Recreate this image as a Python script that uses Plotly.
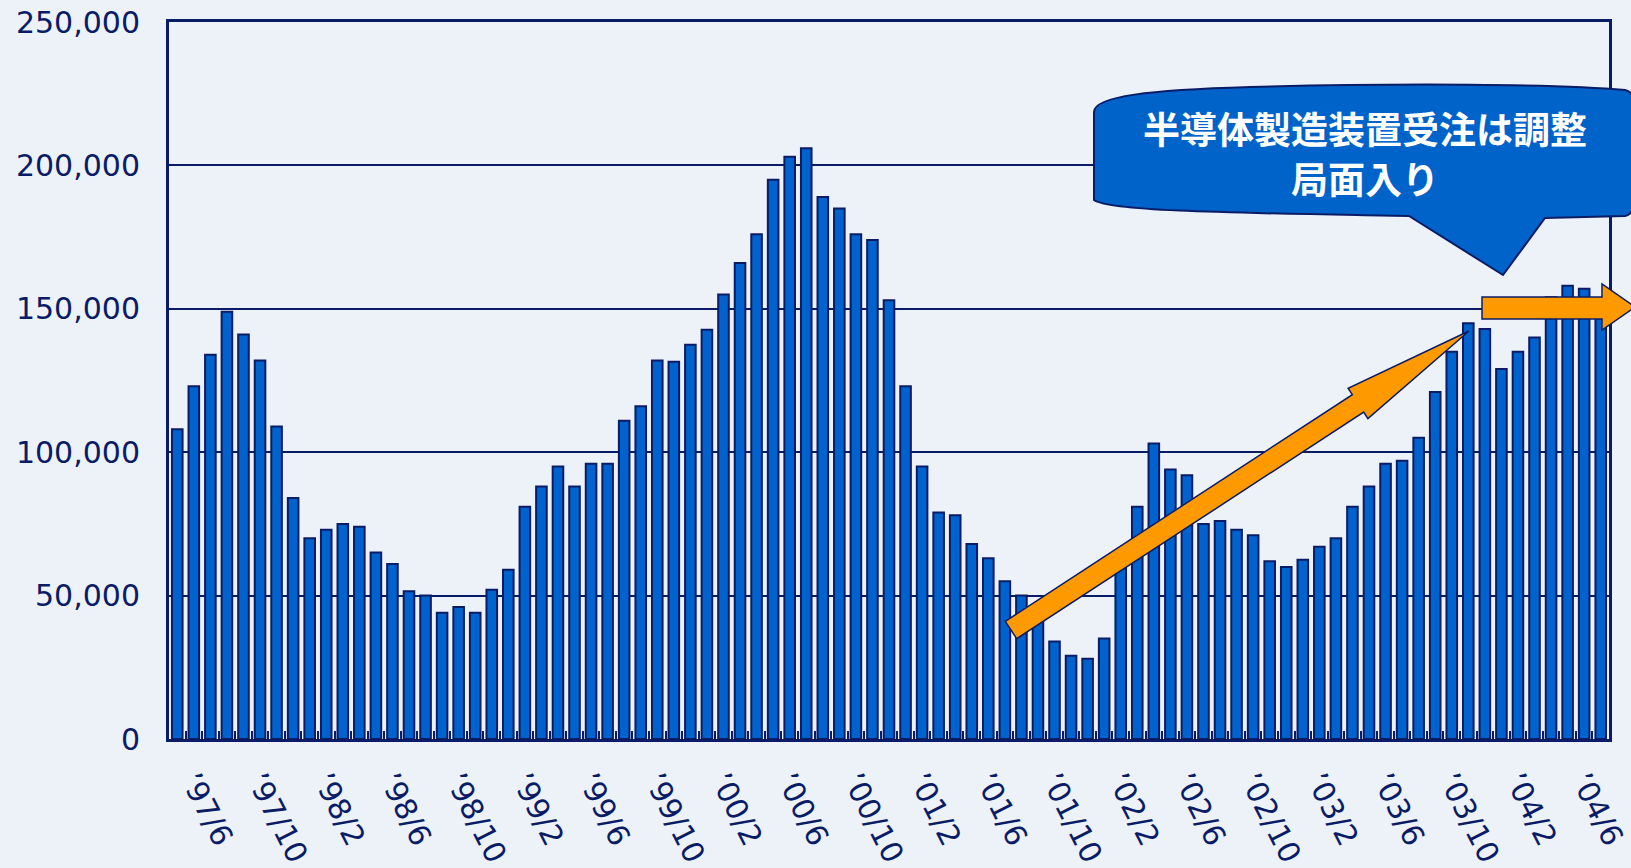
import plotly.graph_objects as go

# ---- data (monthly semiconductor equipment orders, '97/5 .. '04/7) ----
start_year = 1997
start_month = 5
orders = [
    108000, 123000, 134000, 149000, 141000, 132000, 109000, 84000, 70000, 73000,
    75000, 74000, 65000, 61000, 51500, 50000, 44000, 46000, 44000, 52000,
    59000, 81000, 88000, 95000, 88000, 96000, 96000, 111000, 116000, 132000,
    131500, 137500, 142700, 155000, 166000, 176000, 195000, 203000, 206000, 189000,
    185000, 176000, 174000, 153000, 123000, 95000, 79000, 78000, 68000, 63000,
    55000, 50000, 43000, 34000, 29000, 28000, 35000, 60000, 81000, 103000,
    94000, 92000, 75000, 76000, 73000, 71000, 62000, 60000, 62500, 67000,
    70000, 81000, 88000, 96000, 97000, 105000, 121000, 135000, 145000, 143000,
    129000, 135000, 140000, 154000, 158000, 157000, 147000,
]
tick_months = [
    "1997/06", "1997/10", "1998/02", "1998/06", "1998/10", "1999/02", "1999/06",
    "1999/10", "2000/02", "2000/06", "2000/10", "2001/02", "2001/06", "2001/10",
    "2002/02", "2002/06", "2002/10", "2003/02", "2003/06", "2003/10", "2004/02",
    "2004/06",
]
tick_labels = [
    "’97/6", "’97/10", "’98/2", "’98/6", "’98/10", "’99/2", "’99/6",
    "’99/10", "’00/2", "’00/6", "’00/10", "’01/2", "’01/6", "’01/10",
    "’02/2", "’02/6", "’02/10", "’03/2", "’03/6", "’03/10", "’04/2",
    "’04/6",
]
y_ticks = [0, 50000, 100000, 150000, 200000, 250000]
callout_lines = ["半導体製造装置受注は調整", "局面入り"]

# category labels for every month
months = []
yy, mm = start_year, start_month
for _ in orders:
    months.append(f"{yy}/{mm:02d}")
    mm += 1
    if mm > 12:
        mm = 1
        yy += 1
label_map = dict(zip(tick_months, tick_labels))
all_ticktext = [label_map.get(m, "") for m in months]

NAVY = "#0b1c66"
BAR = "#0062cc"
ORANGE = "#ff9900"
FONT = "DejaVu Sans, Verdana, sans-serif"

W, H = 1631, 868
L, R, T, B = 169, 1609, 22, 739


def px(x):
    return (x - L) / (R - L)


def py(y):
    return (B - y) / (B - T)


def path(cmds):
    out = []
    for c in cmds:
        if isinstance(c, str):
            out.append(c)
        else:
            out.append(f"{px(c[0]):.5f},{py(c[1]):.5f}")
    return " ".join(out)


fig = go.Figure()
fig.add_trace(go.Bar(
    x=months, y=orders,
    marker=dict(color=BAR, line=dict(color=NAVY, width=2)),
    hoverinfo="x+y",
))

# diagonal orange arrow
diag = path([
    "M", (1005.3, 621.3), "L", (1352.3, 394.7), "L", (1348.1, 388.2),
    "L", (1469, 331), "L", (1367.9, 418.6), "L", (1363.7, 412.1),
    "L", (1016.7, 638.7), "Z",
])
# horizontal orange arrow
horiz = path([
    "M", (1482, 297), "L", (1602, 297), "L", (1602, 284), "L", (1635, 307),
    "L", (1602, 330), "L", (1602, 319), "L", (1482, 319), "Z",
])
# callout balloon
balloon = path([
    "M", (1094, 112),
    "C", (1094, 96), (1150, 90), (1250, 87),
    "C", (1400, 83), (1560, 84), (1625, 90),
    "C", (1650, 93), (1650, 212), (1625, 216),
    "L", (1545, 218), "L", (1503, 275), "L", (1409, 216),
    "C", (1250, 213), (1110, 212), (1094, 200),
    "Z",
])

shapes = [
    dict(type="path", xref="paper", yref="paper", path=diag, fillcolor=ORANGE,
         line=dict(color=NAVY, width=1.5), layer="above"),
    dict(type="path", xref="paper", yref="paper", path=horiz, fillcolor=ORANGE,
         line=dict(color=NAVY, width=1.5), layer="above"),
    dict(type="path", xref="paper", yref="paper", path=balloon, fillcolor="#0063c9",
         line=dict(color=NAVY, width=2), layer="above"),
]

annotations = [
    dict(xref="paper", yref="paper", x=px(1365), y=py(yp),
         text=line, showarrow=False, xanchor="center", yanchor="middle",
         font=dict(family="Noto Sans CJK JP", size=37, color="white", weight="bold"))
    for line, yp in zip(callout_lines, [128, 178])
]

fig.update_layout(
    width=W, height=H,
    margin=dict(l=L, r=W - R, t=T, b=H - B, pad=0),
    paper_bgcolor="#edf2f8",
    plot_bgcolor="rgba(0,0,0,0)",
    bargap=0.36,
    showlegend=False,
    shapes=shapes,
    annotations=annotations,
    font=dict(family=FONT, color=NAVY),
)
fig.update_xaxes(
    type="category", automargin=False,
    tickmode="array", tickvals=months, ticktext=all_ticktext,
    tickson="boundaries", ticks="inside", ticklen=8, tickwidth=2, tickcolor=NAVY,
    tickangle=63, tickfont=dict(family=FONT, size=30, color=NAVY),
    ticklabelstandoff=10,
    showline=True, linecolor=NAVY, linewidth=3, mirror=True,
    showgrid=False, zeroline=False,
)
fig.update_yaxes(
    range=[0, 250000], automargin=False,
    tickmode="array", tickvals=y_ticks, tickformat=",d",
    tickfont=dict(family=FONT, size=30, color=NAVY), ticks="", ticklabelstandoff=20,
    showline=True, linecolor=NAVY, linewidth=3, mirror=True,
    showgrid=True, gridcolor=NAVY, gridwidth=2, zeroline=False,
)

fig.write_html(
    "out.html",
    config={"displayModeBar": False},
    post_script="document.body.style.margin='0';document.body.style.overflow='hidden';",
)
